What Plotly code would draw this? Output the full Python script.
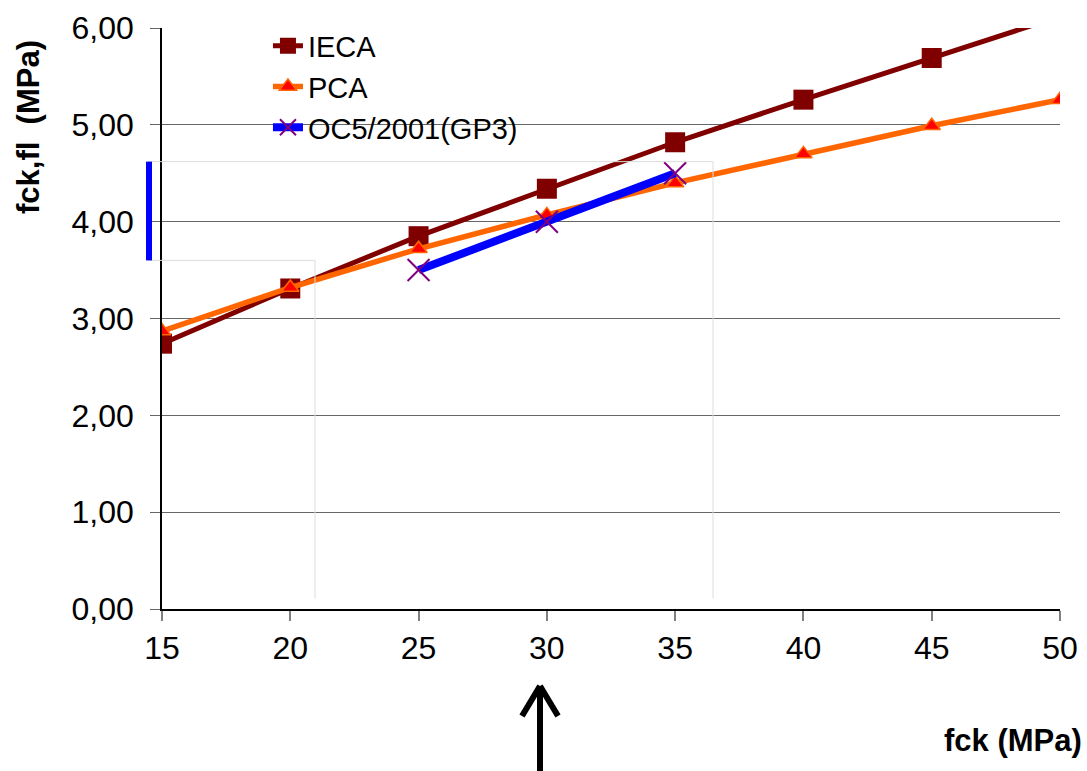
import plotly.graph_objects as go

fck = [15, 20, 25, 30, 35, 40, 45, 50]
ieca = [2.74, 3.31, 3.85, 4.34, 4.82, 5.26, 5.69, 6.12]
pca = [2.87, 3.32, 3.72, 4.07, 4.40, 4.70, 4.99, 5.26]
oc5_x = [25, 30, 35]
oc5_y = [3.50, 4.00, 4.50]

x_ticks = [15, 20, 25, 30, 35, 40, 45, 50]
y_ticks = [0, 1, 2, 3, 4, 5, 6]

FONT = "Arial, Liberation Sans, sans-serif"

fig = go.Figure()
fig.add_trace(go.Scatter(
    x=fck, y=ieca, name="IECA", mode="lines+markers", legendgroup="a",
    line=dict(color="#800000", width=5),
    marker=dict(symbol="square", size=20, color="#800000"),
))
fig.add_trace(go.Scatter(
    x=fck, y=pca, name="PCA", mode="lines+markers", legendgroup="b",
    line=dict(color="#FF6600", width=5.5),
    marker=dict(symbol="triangle-up", size=15, color="#FF0000",
                line=dict(color="#FF6600", width=1.5)),
))
fig.add_trace(go.Scatter(
    x=oc5_x, y=oc5_y, name="OC5/2001(GP3)", mode="lines+markers", legendgroup="c",
    line=dict(color="#0000FF", width=8),
    marker=dict(symbol="x-thin", size=22, color="#800080",
                line=dict(color="#800080", width=2)),
))

def px2paper_x(px):
    return (px - 162) / 898.0

def px2paper_y(py):
    return (609 - py) / 581.0

shapes = []
faint = dict(color="#dcdcdc", width=1)
# faint guide lines
shapes.append(dict(type="line", xref="paper", yref="y", x0=px2paper_x(148), x1=px2paper_x(713), y0=4.62, y1=4.62, line=faint))
shapes.append(dict(type="line", xref="paper", yref="y", x0=px2paper_x(713), x1=px2paper_x(713), y0=0.11, y1=4.62, line=faint))
shapes.append(dict(type="line", xref="paper", yref="y", x0=px2paper_x(148), x1=px2paper_x(315), y0=3.6, y1=3.6, line=faint))
shapes.append(dict(type="line", xref="paper", yref="y", x0=px2paper_x(315), x1=px2paper_x(315), y0=0.11, y1=3.6, line=faint))
# blue bar
shapes.append(dict(type="line", xref="paper", yref="y", x0=px2paper_x(149), x1=px2paper_x(149), y0=3.6, y1=4.62, line=dict(color="#0000FF", width=6)))
# arrow
arr = dict(color="black", width=6)
shapes.append(dict(type="line", xref="paper", yref="paper", x0=px2paper_x(540), x1=px2paper_x(540), y0=px2paper_y(688), y1=px2paper_y(775), line=arr))
shapes.append(dict(type="line", xref="paper", yref="paper", x0=px2paper_x(522), x1=px2paper_x(540), y0=px2paper_y(716), y1=px2paper_y(686), line=arr))
shapes.append(dict(type="line", xref="paper", yref="paper", x0=px2paper_x(558), x1=px2paper_x(540), y0=px2paper_y(716), y1=px2paper_y(686), line=arr))

fig.update_layout(
    template="none",
    width=1087, height=771,
    margin=dict(l=162, r=27, t=28, b=162),
    paper_bgcolor="white", plot_bgcolor="white",
    font=dict(family=FONT, size=32, color="black"),
    separators=",.",
    showlegend=True,
    legend=dict(x=0.118, y=1.013, xanchor="left", yanchor="top",
                font=dict(size=29, family=FONT), bgcolor="rgba(0,0,0,0)",
                traceorder="grouped", tracegroupgap=0),
    shapes=shapes,
    annotations=[
        dict(text="<b>fck,fl\u00a0\u00a0(MPa)</b>", textangle=-90, xref="paper", yref="paper",
             x=px2paper_x(29), y=px2paper_y(127), xanchor="center", yanchor="middle",
             showarrow=False, font=dict(size=31, family=FONT)),
        dict(text="<b>fck (MPa)</b>", xref="paper", yref="paper",
             x=px2paper_x(1084), y=px2paper_y(740), xanchor="right", yanchor="middle",
             showarrow=False, font=dict(size=31, family=FONT)),
    ],
)
fig.update_xaxes(
    automargin=False,
    range=[15, 50], tickvals=x_ticks, showgrid=False, zeroline=False,
    showline=True, linecolor="black", linewidth=1.5,
    ticks="outside", ticklen=10, tickcolor="#808080", tickwidth=2,
    tickfont=dict(size=32), ticklabelstandoff=0,
)
fig.update_yaxes(
    automargin=False,
    range=[0, 6], tickvals=y_ticks, tickformat=".2f", showgrid=True,
    gridcolor="#666666", gridwidth=1, zeroline=False,
    showline=True, linecolor="black", linewidth=1.5,
    ticks="outside", ticklen=10, tickcolor="#666666", tickwidth=1,
    tickfont=dict(size=32), ticklabelstandoff=10,
)
fig.write_html("out.html")
